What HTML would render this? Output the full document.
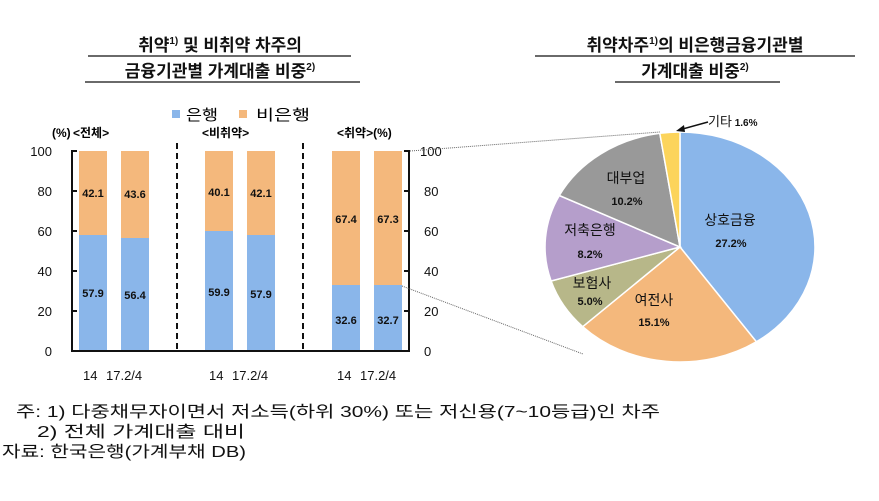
<!DOCTYPE html>
<html><head><meta charset="utf-8"><style>
body{margin:0;width:879px;height:496px;background:#fff;overflow:hidden;font-family:"Liberation Sans","Noto Sans CJK KR",sans-serif}
svg text{font-family:"Liberation Sans","Noto Sans CJK KR",sans-serif}
</style></head><body>
<svg width="879" height="496" viewBox="0 0 879 496">
<g font-size="17" font-weight="bold" text-anchor="middle" fill="#111">
<text x="220" y="51">취약<tspan font-size="10" dy="-7">1)</tspan><tspan dy="7"> 및 비취약 차주의</tspan></text>
<text x="220" y="77">금융기관별 가계대출 비중<tspan font-size="10" dy="-7">2)</tspan></text>
<line x1="88" y1="56" x2="351" y2="56" stroke="#111" stroke-width="1.3"/>
<line x1="85" y1="82" x2="360" y2="82" stroke="#111" stroke-width="1.3"/>
<text x="695" y="51">취약차주<tspan font-size="10" dy="-7">1)</tspan><tspan dy="7">의 비은행금융기관별</tspan></text>
<text x="695" y="77">가계대출 비중<tspan font-size="10" dy="-7">2)</tspan></text>
<line x1="535" y1="56" x2="855" y2="56" stroke="#111" stroke-width="1.3"/>
<line x1="615" y1="82" x2="780" y2="82" stroke="#111" stroke-width="1.3"/>
</g>
<!-- legend -->
<rect x="172" y="110" width="8" height="8" fill="#8ab6ea"/>
<text x="186" y="120" font-size="15" textLength="32" lengthAdjust="spacingAndGlyphs">은행</text>
<rect x="239" y="110" width="8" height="8" fill="#f4b87c"/>
<text x="256" y="120" font-size="15" textLength="54" lengthAdjust="spacingAndGlyphs">비은행</text>
<g font-size="12" font-weight="bold">
<text x="52" y="137">(%)</text><text x="73" y="137">&lt;전체&gt;</text>
<text x="202" y="137">&lt;비취약&gt;</text>
<text x="337" y="137">&lt;취약&gt;(%)</text>
</g>
<!-- bars -->
<g>
<rect x="79" y="151" width="28" height="84" fill="#f4b87c"/><rect x="79" y="235" width="28" height="116" fill="#8ab6ea"/>
<rect x="121" y="151" width="28" height="87" fill="#f4b87c"/><rect x="121" y="238" width="28" height="113" fill="#8ab6ea"/>
<rect x="205" y="151" width="28" height="80" fill="#f4b87c"/><rect x="205" y="231" width="28" height="120" fill="#8ab6ea"/>
<rect x="247" y="151" width="28" height="84" fill="#f4b87c"/><rect x="247" y="235" width="28" height="116" fill="#8ab6ea"/>
<rect x="332" y="151" width="28" height="134" fill="#f4b87c"/><rect x="332" y="285" width="28" height="66" fill="#8ab6ea"/>
<rect x="374" y="151" width="28" height="134" fill="#f4b87c"/><rect x="374" y="285" width="28" height="66" fill="#8ab6ea"/>
</g>
<g font-size="11" font-weight="bold" text-anchor="middle" fill="#111">
<text x="93" y="197">42.1</text><text x="135" y="198">43.6</text>
<text x="219" y="196">40.1</text><text x="261" y="197">42.1</text>
<text x="346" y="223">67.4</text><text x="388" y="223">67.3</text>
<text x="93" y="297">57.9</text><text x="135" y="299">56.4</text>
<text x="219" y="296">59.9</text><text x="261" y="298">57.9</text>
<text x="346" y="324">32.6</text><text x="388" y="324">32.7</text>
</g>
<g stroke="#111" stroke-width="2">
<line x1="72" y1="150" x2="72" y2="352"/><line x1="409" y1="150" x2="409" y2="352"/>
<line x1="71" y1="351" x2="410" y2="351"/>
<line x1="72" y1="151" x2="77" y2="151"/><line x1="72" y1="191" x2="77" y2="191"/><line x1="72" y1="231" x2="77" y2="231"/><line x1="72" y1="271" x2="77" y2="271"/><line x1="72" y1="311" x2="77" y2="311"/>
<line x1="404" y1="151" x2="409" y2="151"/><line x1="404" y1="191" x2="409" y2="191"/><line x1="404" y1="231" x2="409" y2="231"/><line x1="404" y1="271" x2="409" y2="271"/><line x1="404" y1="311" x2="409" y2="311"/>
<line x1="177" y1="143" x2="177" y2="351" stroke-dasharray="6,4"/>
<line x1="303" y1="143" x2="303" y2="351" stroke-dasharray="6,4"/>
</g>
<g font-size="13" fill="#111">
<g text-anchor="end"><text x="52" y="156">100</text><text x="52" y="196">80</text><text x="52" y="236">60</text><text x="52" y="276">40</text><text x="52" y="316">20</text><text x="52" y="356">0</text></g>
<text x="420" y="156">100</text><text x="424" y="196">80</text><text x="424" y="236">60</text><text x="424" y="276">40</text><text x="424" y="316">20</text><text x="424" y="356">0</text>
<text x="83" y="380">14</text><text x="106" y="380">17.2/4</text>
<text x="209" y="380">14</text><text x="232" y="380">17.2/4</text>
<text x="337" y="380">14</text><text x="360" y="380">17.2/4</text>
</g>
<!-- connector lines -->
<line x1="410" y1="151" x2="660" y2="132" stroke="#666" stroke-dasharray="1,1"/>
<line x1="402" y1="286" x2="583" y2="354" stroke="#666" stroke-dasharray="1,1"/>
<!-- pie -->
<g stroke="#fff" stroke-width="1.5">
<path d="M680,247 L680,132 A135,115 0 0 1 756.4,341.8 Z" fill="#8ab6ea"/>
<path d="M680,247 L756.4,341.8 A135,115 0 0 1 582.7,326.7 Z" fill="#f4b87c"/>
<path d="M680,247 L582.7,326.7 A135,115 0 0 1 551.1,281 Z" fill="#b7b789"/>
<path d="M680,247 L551.1,281 A135,115 0 0 1 559.3,195.5 Z" fill="#b59ecb"/>
<path d="M680,247 L559.3,195.5 A135,115 0 0 1 659.8,133.3 Z" fill="#999999"/>
<path d="M680,247 L659.8,133.3 A135,115 0 0 1 680,132 Z" fill="#fcd45b"/>
</g>
<g font-size="14" fill="#111" text-anchor="middle">
<text x="730" y="225">상호금융</text><text x="731" y="247" font-size="11" font-weight="bold">27.2%</text>
<text x="654" y="305">여전사</text><text x="654" y="326" font-size="11" font-weight="bold">15.1%</text>
<text x="592" y="288">보험사</text><text x="590" y="305" font-size="11" font-weight="bold">5.0%</text>
<text x="590" y="235">저축은행</text><text x="590" y="258" font-size="11" font-weight="bold">8.2%</text>
<text x="626" y="183">대부업</text><text x="627" y="205" font-size="11" font-weight="bold">10.2%</text>
</g>
<line x1="708" y1="122" x2="679" y2="130" stroke="#111" stroke-width="1.5"/>
<path d="M676,131 L684,125 L685,132 Z" fill="#111"/>
<text x="708" y="126" font-size="13" fill="#111">기타<tspan font-size="10" font-weight="bold"> 1.6%</tspan></text>
<!-- footnotes -->
<g font-size="16" fill="#111">
<text x="16" y="417" textLength="644" lengthAdjust="spacingAndGlyphs">주: 1) 다중채무자이면서 저소득(하위 30%) 또는 저신용(7~10등급)인 차주</text>
<text x="37" y="437" textLength="208" lengthAdjust="spacingAndGlyphs">2) 전체 가계대출 대비</text>
<text x="2" y="457" textLength="244" lengthAdjust="spacingAndGlyphs">자료: 한국은행(가계부채 DB)</text>
</g>
</svg>
</body></html>
